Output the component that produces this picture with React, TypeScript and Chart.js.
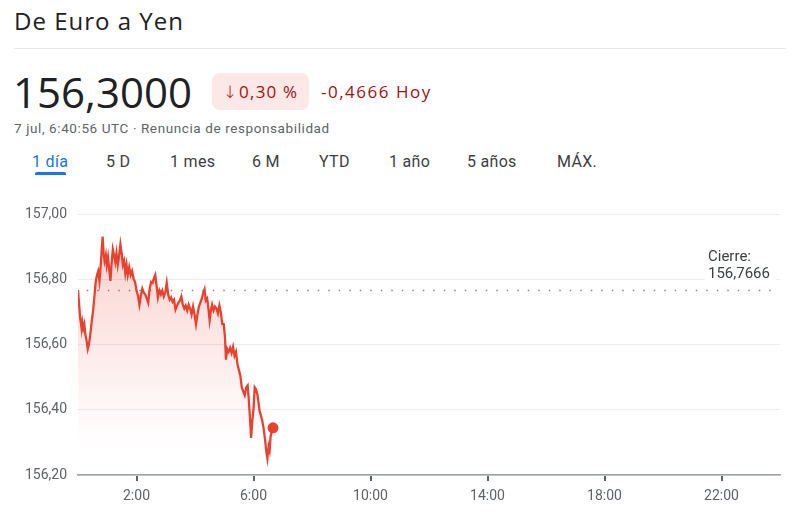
import React, { useEffect, useRef } from 'react';
import { Chart, registerables } from 'chart.js';

Chart.register(...registerables);

// Minutes since 0:00 UTC
const minutes = [
  0, 2.5, 4.5, 6, 7.5, 9, 11, 13, 15, 17.5, 20, 22.5, 25, 28, 31, 34, 36.5, 39, 41.5, 44,
  46, 48.5, 50.5, 52.5, 54.5, 57, 59, 61.5, 64, 66.5, 69, 71.5, 74, 76.5, 79, 81.5, 84, 87, 89.5, 92,
  94.5, 97, 99.5, 102, 105, 108, 111, 114, 117, 120, 123, 126, 129, 132, 135, 138, 141, 144, 147, 150,
  153, 156, 158.5, 161, 164, 167, 170, 173, 176, 179, 182, 185, 188, 191, 194, 197, 200, 203, 206, 209,
  212, 215, 218, 221, 224, 227, 230, 233, 236, 239, 242, 245, 248, 251, 254, 257, 259.5, 262, 265, 268,
  270, 272.5, 275, 278, 281, 284, 287, 290, 293, 296, 299, 301.5, 303.5, 306, 309, 312, 315, 318, 321, 324,
  327, 330, 333, 336, 339, 342, 345, 348, 350, 352.5, 355, 357.5, 360, 362.5, 365, 367.5, 370, 372.5, 375, 378,
  381, 384, 386, 388.5, 391, 393, 395, 397.5, 400,
];

const rates = [
  156.768, 156.720, 156.681, 156.666, 156.648, 156.669, 156.651, 156.663, 156.632, 156.614, 156.587, 156.602, 156.629, 156.669, 156.705, 156.754, 156.796, 156.814, 156.826, 156.796,
  156.832, 156.887, 156.932, 156.881, 156.857, 156.875, 156.845, 156.869, 156.832, 156.796, 156.851, 156.893, 156.875, 156.854, 156.881, 156.845, 156.869, 156.908, 156.881, 156.845,
  156.857, 156.820, 156.845, 156.814, 156.838, 156.814, 156.826, 156.802, 156.793, 156.766, 156.751, 156.723, 156.751, 156.772, 156.760, 156.754, 156.742, 156.729, 156.772, 156.793,
  156.790, 156.805, 156.814, 156.784, 156.745, 156.766, 156.754, 156.766, 156.748, 156.760, 156.790, 156.754, 156.738, 156.745, 156.732, 156.738, 156.708, 156.720, 156.729, 156.735,
  156.748, 156.723, 156.711, 156.720, 156.705, 156.723, 156.711, 156.693, 156.717, 156.693, 156.663, 156.693, 156.717, 156.729, 156.742, 156.760, 156.770, 156.735, 156.742, 156.705,
  156.675, 156.705, 156.723, 156.705, 156.717, 156.711, 156.696, 156.720, 156.699, 156.663, 156.663, 156.623, 156.554, 156.587, 156.578, 156.590, 156.575, 156.593, 156.566, 156.578,
  156.541, 156.523, 156.505, 156.469, 156.457, 156.445, 156.469, 156.475, 156.438, 156.381, 156.314, 156.366, 156.402, 156.469, 156.463, 156.451, 156.426, 156.396, 156.384, 156.366,
  156.341, 156.305, 156.275, 156.251, 156.287, 156.275, 156.317, 156.335, 156.345,
];

const closeRate = 156.7666;
const closeSpan = [18, 1438];

const xTickMinutes = [120, 360, 600, 840, 1080, 1320];
const xTickLabels = ['2:00', '6:00', '10:00', '14:00', '18:00', '22:00'];

const yMin = 156.2;
const yMax = 157.0;
const yStep = 0.2;

const tabs = ['1 día', '5 D', '1 mes', '6 M', 'YTD', '1 año', '5 años', 'MÁX.'];
const tabLefts = [32, 106, 170, 252, 319, 389, 467, 557];

const lineColor = '#e8412f';

export default function App() {
  const canvasRef = useRef<HTMLCanvasElement | null>(null);

  useEffect(() => {
    const canvas = canvasRef.current;
    if (!canvas) return;
    const n = rates.length;
    const chart = new Chart(canvas, {
      type: 'line',
      data: {
        datasets: [
          {
            data: minutes.map((m, i) => ({ x: m, y: rates[i] })),
            borderColor: lineColor,
            borderWidth: 2.3,
            tension: 0,
            fill: 'start',
            backgroundColor: (ctx: any) => {
              const c = ctx.chart;
              const area = c.chartArea;
              if (!area) return 'rgba(0,0,0,0)';
              const g = c.ctx.createLinearGradient(0, area.top, 0, area.bottom);
              g.addColorStop(0, 'rgba(234,67,53,0.28)');
              g.addColorStop(0.45, 'rgba(234,67,53,0.13)');
              g.addColorStop(0.88, 'rgba(234,67,53,0)');
              return g;
            },
            pointRadius: (ctx: any) => (ctx.dataIndex === n - 1 ? 5.5 : 0),
            pointBackgroundColor: lineColor,
            pointBorderWidth: 0,
            pointHoverRadius: 0,
            order: 1,
          },
          {
            data: [
              { x: closeSpan[0], y: closeRate },
              { x: closeSpan[1], y: closeRate },
            ],
            borderColor: '#80868b',
            borderWidth: 1.5,
            borderDash: [1.5, 9],
            pointRadius: 0,
            fill: false,
            order: 2,
          },
        ],
      },
      options: {
        animation: false,
        responsive: false,
        maintainAspectRatio: false,
        devicePixelRatio: 1,
        layout: { padding: { left: 0, right: 20, top: 15, bottom: 0 } },
        plugins: { legend: { display: false }, tooltip: { enabled: false } },
        events: [],
        scales: {
          x: {
            type: 'linear',
            min: 0,
            max: 1440,
            afterBuildTicks: (s: any) => {
              s.ticks = xTickMinutes.map((v) => ({ value: v }));
            },
            afterFit: (s: any) => {
              s.height = 45;
            },
            ticks: {
              autoSkip: false,
              maxRotation: 0,
              padding: 7,
              color: '#5f6368',
              font: { family: 'Roboto, sans-serif', size: 14 },
              callback: (v: any) => {
                const i = xTickMinutes.indexOf(Number(v));
                return i >= 0 ? xTickLabels[i] : '';
              },
            },
            grid: {
              drawOnChartArea: false,
              drawTicks: true,
              tickLength: 6,
              color: '#5f6368',
              lineWidth: 2,
            },
            border: { color: '#9aa0a6', width: 1.5 },
          },
          y: {
            min: yMin,
            max: yMax,
            afterFit: (s: any) => {
              s.width = 78;
            },
            ticks: {
              stepSize: yStep,
              padding: 11,
              color: '#5f6368',
              font: { family: 'Roboto, sans-serif', size: 14 },
              callback: (v: any) => Number(v).toFixed(2).replace('.', ','),
            },
            grid: { color: '#ebedef', lineWidth: 1, drawTicks: false },
            border: { display: false },
          },
        },
      },
    } as any);
    return () => chart.destroy();
  }, []);

  const abs = (s: React.CSSProperties): React.CSSProperties => ({ position: 'absolute', whiteSpace: 'nowrap', ...s });

  return (
    <div style={{ position: 'fixed', left: 0, top: 0, width: 800, height: 520, background: '#fff', overflow: 'hidden' }}>
      <div style={abs({ left: 14, top: 8.5, fontFamily: '"Open Sans", sans-serif', fontSize: 24, lineHeight: '24px', letterSpacing: 1, color: '#202124' })}>
        De Euro a Yen
      </div>
      <div style={abs({ left: 14, top: 48, width: 772, height: 1, background: '#e8eaed' })} />
      <div style={abs({ left: 13, top: 70.5, fontFamily: '"Open Sans", sans-serif', fontSize: 42, lineHeight: '42px', color: '#202124' })}>
        156,3000
      </div>
      <div
        style={abs({
          left: 212,
          top: 73,
          width: 97,
          height: 37,
          borderRadius: 8,
          background: '#fce8e6',
          display: 'flex',
          alignItems: 'center',
          justifyContent: 'center',
          fontFamily: '"Open Sans", sans-serif',
          fontSize: 17,
          color: '#a50e0e',
          letterSpacing: 1.2,
        })}
      >
        <span style={{ fontFamily: '"DejaVu Sans", sans-serif', fontSize: 17, fontWeight: 300, marginRight: 1 }}>↓</span>0,30 %
      </div>
      <div style={abs({ left: 321, top: 73, height: 37, display: 'flex', alignItems: 'center', fontFamily: '"Open Sans", sans-serif', fontSize: 17, letterSpacing: 1.5, color: '#a50e0e' })}>
        -0,4666 Hoy
      </div>
      <div style={abs({ left: 14, top: 122, fontFamily: 'Roboto, sans-serif', fontSize: 13.5, lineHeight: '13.5px', letterSpacing: 0.6, color: '#5f6368' })}>
        7 jul, 6:40:56 UTC · Renuncia de responsabilidad
      </div>
      {tabs.map((t, i) => (
        <div
          key={t}
          style={abs({
            left: tabLefts[i],
            top: 154,
            fontFamily: 'Roboto, sans-serif',
            fontSize: 16,
            lineHeight: '16px',
            letterSpacing: 0.3,
            color: i === 0 ? '#1a73e8' : '#3c4043',
          })}
        >
          {t}
        </div>
      ))}
      <div style={abs({ left: 35, top: 172, width: 31, height: 3, borderRadius: '2px 2px 0 0', background: '#1a73e8' })} />
      <canvas ref={canvasRef} width={800} height={325} style={{ position: 'absolute', left: 0, top: 195, width: 800, height: 325, display: 'block' }} />
      <div
        style={abs({
          left: 705,
          top: 248,
          paddingLeft: 3,
          paddingRight: 6,
          background: '#fff',
          fontFamily: 'Roboto, sans-serif',
          fontSize: 15,
          lineHeight: '17px',
          color: '#3c4043',
        })}
      >
        Cierre:
        <br />
        156,7666
      </div>
    </div>
  );
}
